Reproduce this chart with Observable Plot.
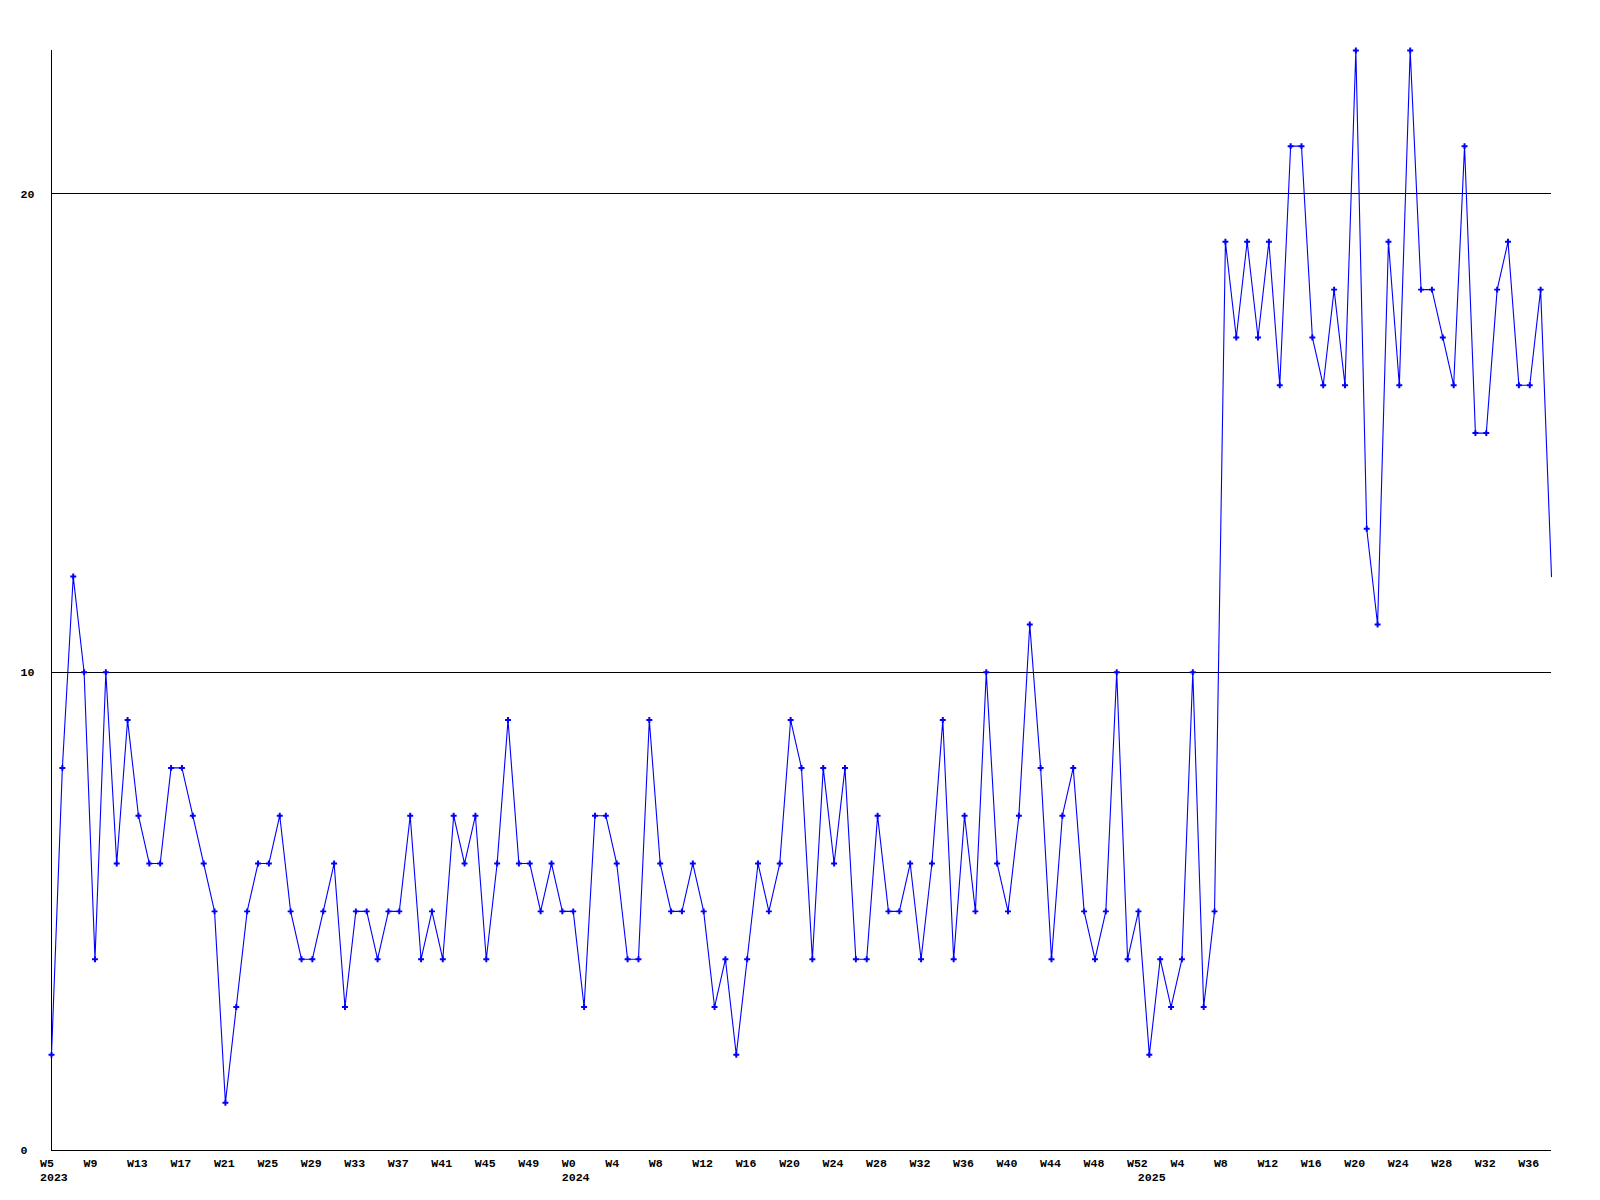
<!DOCTYPE html>
<html>
<head>
<meta charset="utf-8">
<script src="https://cdn.jsdelivr.net/npm/d3@7"></script>
<script src="https://cdn.jsdelivr.net/npm/@observablehq/plot@0.6"></script>
<style>
  html, body { margin: 0; padding: 0; background: #fff; }
  #chart svg { display: block; }
</style>
</head>
<body>
<div id="chart"></div>
<script>
// Weekly values, 2023 W5..W52
const values2023 = [2, 8, 12, 10, 4, 10, 6, 9, 7, 6, 6, 8, 8, 7, 6, 5, 1, 3, 5, 6, 6, 7, 5, 4, 4, 5, 6, 3, 5, 5, 4, 5, 5, 7, 4, 5, 4, 7, 6, 7, 4, 6, 9, 6, 6, 5, 6, 5];
// 2024 W0..W52
const values2024 = [5, 3, 7, 7, 6, 4, 4, 9, 6, 5, 5, 6, 5, 3, 4, 2, 4, 6, 5, 6, 9, 8, 4, 8, 6, 8, 4, 4, 7, 5, 5, 6, 4, 6, 9, 4, 7, 5, 10, 6, 5, 7, 11, 8, 4, 7, 8, 5, 4, 5, 10, 4, 5];
// 2025 W1..W38
const values2025 = [2, 4, 3, 4, 10, 3, 5, 19, 17, 19, 17, 19, 16, 21, 21, 17, 16, 18, 16, 23, 13, 11, 19, 16, 23, 18, 18, 17, 16, 21, 15, 15, 18, 19, 16, 16, 18, 12];

const years = [2023, 2024, 2025];
const firstWeeks = [5, 0, 1];
const seriesByYear = [values2023, values2024, values2025];
const yTicks = [0, 10, 20];
const tickEvery = 4;

// Build rows
const data = [];
seriesByYear.forEach((vals, k) => {
  vals.forEach((v, j) => {
    data.push({i: data.length, year: years[k], week: firstWeeks[k] + j, v, first: j === 0});
  });
});
const lastIndex = data.length - 1;
const weekTicks = data.filter(d => d.i % tickEvery === 0).map(d => d.i);
const yearTicks = data.filter(d => d.first).map(d => d.i);

const blue = "#0000ff";

const chart = Plot.plot({
  width: 1600,
  height: 1200,
  marginLeft: 51,
  marginRight: 49,
  marginTop: 50,
  marginBottom: 50,
  style: {fontFamily: "'Liberation Mono', 'DejaVu Sans Mono', monospace", fontSize: "11.6px", fontWeight: "bold", color: "#000", background: "#fff"},
  x: {domain: [0, lastIndex], axis: null},
  y: {domain: [0, 23], axis: null},
  marks: [
    Plot.ruleY([10, 20], {stroke: "#000", strokeWidth: 1, shapeRendering: "crispEdges"}),
    Plot.ruleY([0], {stroke: "#000", strokeWidth: 1, shapeRendering: "crispEdges"}),
    Plot.ruleX([0], {stroke: "#000", strokeWidth: 1, shapeRendering: "crispEdges"}),
    Plot.axisY({ticks: yTicks, tickSize: 0, tickPadding: 0, textAnchor: "start", dx: -31, label: null, tickFormat: d => String(d)}),
    Plot.axisX({ticks: weekTicks, tickSize: 0, tickPadding: 0, textAnchor: "start", dx: -11.5, dy: 13, lineAnchor: "middle", label: null,
      tickFormat: i => "W" + data[i].week}),
    Plot.axisX({ticks: yearTicks, tickSize: 0, tickPadding: 0, textAnchor: "start", dx: -11.5, dy: 27, lineAnchor: "middle", label: null,
      tickFormat: i => String(data[i].year)}),
    Plot.line(data, {x: "i", y: "v", stroke: blue, strokeWidth: 1.1}),
    Plot.dot(data.filter(d => d.i !== lastIndex), {x: "i", y: "v", symbol: "cross", r: 2.5, fill: blue, stroke: "none"})
  ]
});
document.getElementById("chart").appendChild(chart);
</script>
</body>
</html>
